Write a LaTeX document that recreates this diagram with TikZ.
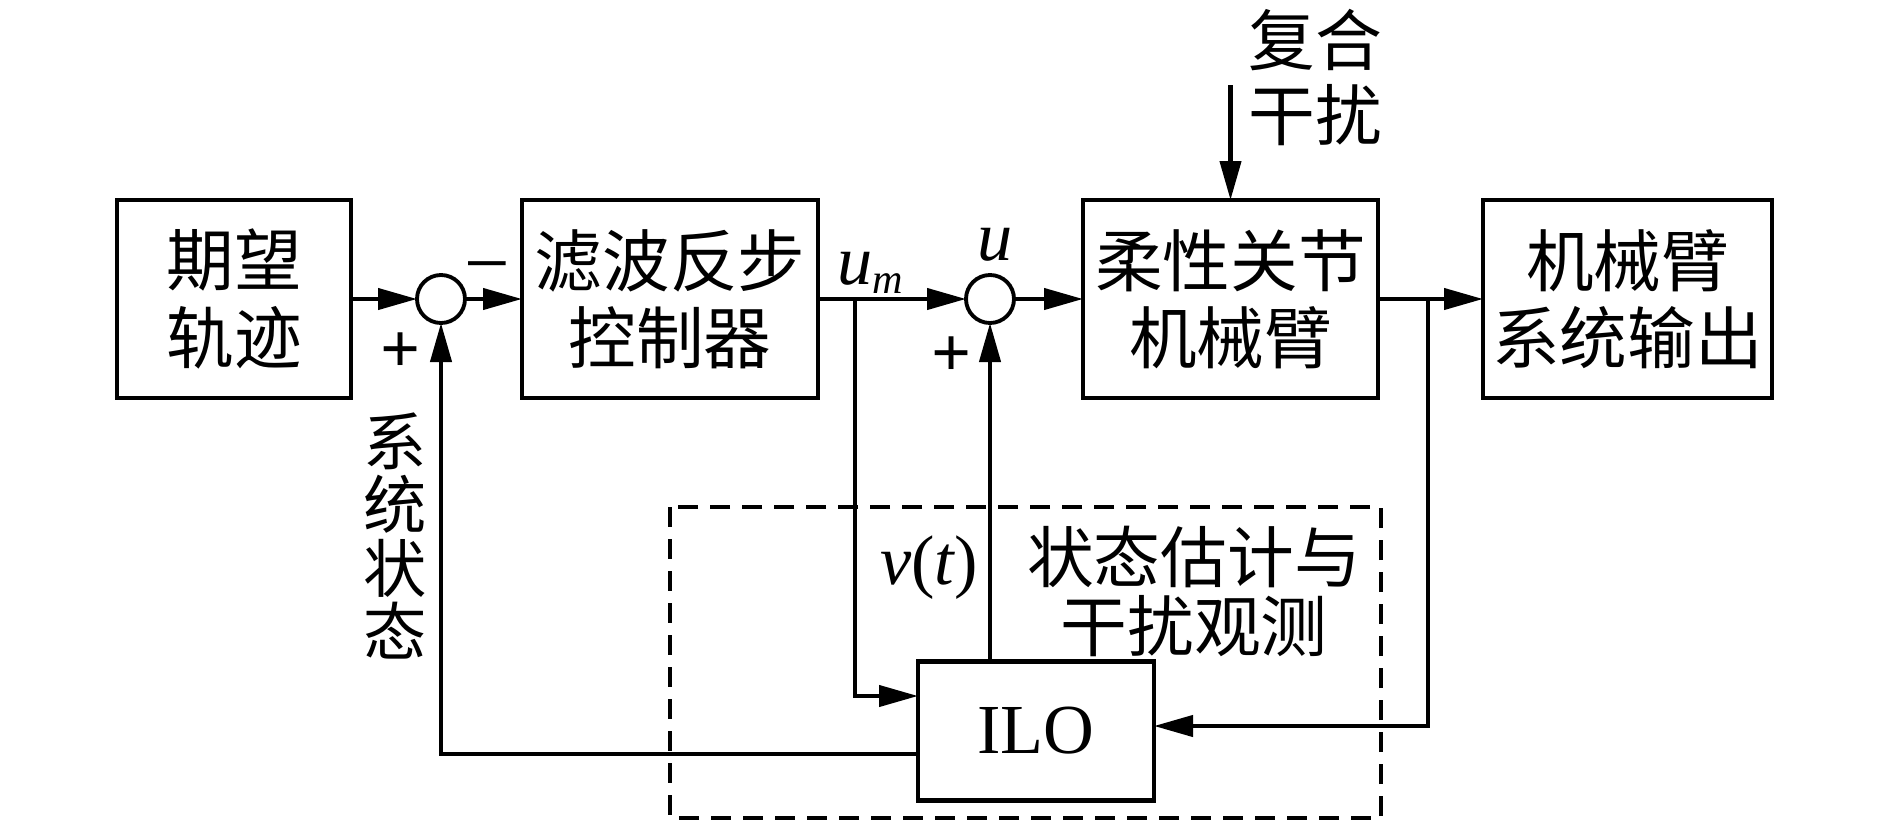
\documentclass[tikz,border=0pt]{standalone}
\usepackage{fontspec}
\setmainfont{Liberation Serif}
\newfontfamily\cjk{Noto Sans CJK SC}
\usetikzlibrary{arrows.meta,positioning}

\begin{document}
\begin{tikzpicture}[
  node distance=1.3cm,
  block/.style={rectangle, draw=black, line width=2.6pt, minimum height=3.96cm, outer sep=0pt,
    align=center, inner sep=0pt, font=\cjk\fontsize{38.5}{44}\selectfont},
  sumnode/.style={circle, draw=black, line width=2.2pt, minimum size=0.96cm, inner sep=0pt, outer sep=0pt},
  arrow/.style={-{Triangle[length=0.78cm, width=0.42cm]}, line width=2.4pt},
  obsbox/.style={line width=2.2pt, dash pattern=on 0.4cm off 0.24cm},
  cjklabel/.style={inner sep=0pt, align=center, font=\cjk\fontsize{38}{39}\selectfont},
  sign/.style={inner sep=0pt, font=\fontsize{40}{40}\selectfont\bfseries},
  var/.style={inner sep=0pt, font=\fontsize{40}{40}\selectfont\itshape},
]
  \useasboundingbox (0,0) rectangle (37.78,-16.42);

  % forward path
  \node[block, minimum width=4.68cm] (traj) at (4.68,-5.98) {期望\\轨迹};
  \node[sumnode, right=1.32cm of traj] (sum1) {};
  \node[block, minimum width=5.92cm, right=1.14cm of sum1] (ctrl) {滤波反步\\控制器};
  \node[sumnode, right=2.96cm of ctrl] (sum2) {};
  \node[block, minimum width=5.9cm, right=1.38cm of sum2] (plant) {柔性关节\\机械臂};
  \node[block, minimum width=5.78cm, right=2.1cm of plant] (out) {机械臂\\系统输出};

  % observer
  \node[draw=black, line width=2.6pt, minimum width=4.72cm, minimum height=2.78cm, outer sep=0pt,
    inner sep=0pt, font=\fontsize{40}{40}\selectfont] (ilo) at (20.72,-14.62) {ILO};
  \draw[obsbox] (13.4,-10.14) rectangle (27.62,-16.36);
  \node[cjklabel] (obslbl) at (23.88,-11.83) {状态估计与\\干扰观测};

  \coordinate (umtap) at ([xshift=0.74cm]ctrl.east);
  \coordinate (ytap) at ([xshift=1.0cm]plant.east);
  \coordinate (dist) at ([yshift=2.3cm]plant.north);

  \draw[arrow] (traj) -- (sum1);
  \draw[arrow] (sum1) -- (ctrl);
  \draw[arrow] (ctrl) -- (sum2);
  \draw[arrow] (sum2) -- (plant);
  \draw[arrow] (plant) -- (out);
  \draw[arrow] (dist) -- (plant.north);

  \draw[arrow] (umtap) |- ([yshift=0.7cm]ilo.west);
  \draw[arrow] (ytap) |- ([yshift=0.1cm]ilo.east);
  \draw[arrow] (ilo.north -| sum2) -- (sum2.south);
  \draw[arrow] ([yshift=-0.46cm]ilo.west) -| (sum1.south);

  % labels
  \node[cjklabel, anchor=west, align=left, font=\cjk\fontsize{38}{43}\selectfont] (distlbl) at (24.96,-1.55) {复合\\干扰};
  \node[cjklabel, font=\cjk\fontsize{36}{36}\selectfont] (statelbl) at (7.9,-10.72) {系\\统\\状\\态};
  \node[var, anchor=base west] (umlbl) at (16.74,-5.68) {u\raisebox{-0.3ex}{\fontsize{24}{24}\selectfont m}};
  \node[var, anchor=base] (ulbl) at (19.9,-5.2) {u};
  \node[var, anchor=base] (vlbl) at (18.58,-11.68) {v{\upshape(}t{\upshape)}};
  \node[sign, font=\fontsize{46}{46}\selectfont] (minus1) at (9.74,-5.52) {−};
  \node[sign] (plus1) at (8.02,-7.06) {+};
  \node[sign] (plus2) at (19.04,-7.14) {+};
\end{tikzpicture}
\end{document}
